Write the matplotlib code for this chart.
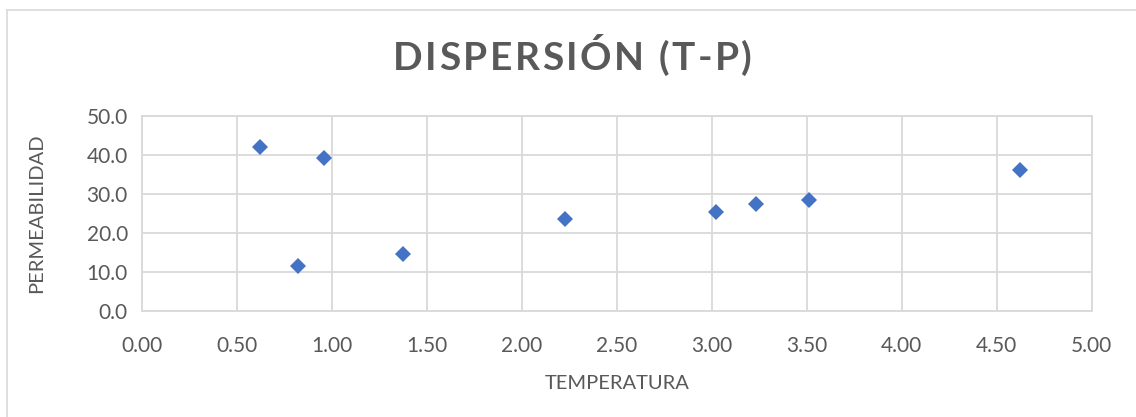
"""Dispersión temperatura vs permeabilidad (estilo Excel)."""
import matplotlib
matplotlib.use("Agg")
import matplotlib.pyplot as plt
from matplotlib.lines import Line2D
from matplotlib.ticker import FormatStrFormatter

plt.rcParams.update({
    "font.family": ["Lato", "DejaVu Sans"],
    "font.size": 14,
})

# Datos
temperatura = [0.62, 0.82, 0.96, 1.375, 2.23, 3.02, 3.235, 3.51, 4.62]
permeabilidad = [42.0, 11.5, 39.1, 14.5, 23.4, 25.3, 27.4, 28.4, 36.1]

x_ticks = [0.0, 0.5, 1.0, 1.5, 2.0, 2.5, 3.0, 3.5, 4.0, 4.5, 5.0]
y_ticks = [0.0, 10.0, 20.0, 30.0, 40.0, 50.0]

TITLE = "DISPERSIÓN (T-P)"

TEXT = "#595959"
GRID = "#d9d9d9"
BLUE = "#4472C4"

W, H = 1136, 417
fig = plt.figure(figsize=(W / 100, H / 100), dpi=100)
fig.patch.set_facecolor("white")

# marco exterior (solo visible arriba e izquierda)
fig.add_artist(Line2D([6.5 / W, 6.5 / W], [0, 1 - 10 / H], transform=fig.transFigure,
                      color=GRID, linewidth=1.2))
fig.add_artist(Line2D([6.5 / W, 1], [1 - 10 / H, 1 - 10 / H], transform=fig.transFigure,
                      color=GRID, linewidth=1.2))

left, right = 141.7 / W, 1091.7 / W
bottom, top = 1 - 310.7 / H, 1 - 115.7 / H
ax = fig.add_axes([left, bottom, right - left, top - bottom])

ax.plot(temperatura, permeabilidad, linestyle="none", marker="D", markersize=8.2,
        color=BLUE, markeredgewidth=0, zorder=5, clip_on=False)

ax.set_xlim(0, 5)
ax.set_ylim(0, 50)
ax.set_xticks(x_ticks)
ax.set_yticks(y_ticks)
ax.xaxis.set_major_formatter(FormatStrFormatter("%.2f"))
ax.yaxis.set_major_formatter(FormatStrFormatter("%.1f"))
ax.tick_params(axis="both", length=0, labelsize=15, labelcolor=TEXT)
ax.tick_params(axis="x", pad=18)
ax.tick_params(axis="y", pad=10)
ax.grid(True, color=GRID, linewidth=1.3)
ax.set_axisbelow(True)
for sp in ax.spines.values():
    sp.set_color(GRID)
    sp.set_linewidth(1.3)

ax.set_xlabel("TEMPERATURA", fontsize=14.5, color=TEXT, labelpad=14)
ax.set_ylabel("PERMEABILIDAD", fontsize=14.5, color=TEXT, labelpad=30)

# título con espaciado entre letras
renderer = fig.canvas.get_renderer()
spacing = 2.5
chars = []
widths = []
for ch in TITLE:
    t = fig.text(0, 1 - 58 / H, ch, ha="left", va="center", fontsize=28,
                 fontweight="bold", color=TEXT)
    widths.append(t.get_window_extent(renderer).width)
    chars.append(t)
total = sum(widths) + spacing * (len(chars) - 1)
x = (397 + 748) / 2 - total / 2
for t, w in zip(chars, widths):
    t.set_x(x / W)
    x += w + spacing

fig.savefig("out.png", dpi=100, facecolor="white")
